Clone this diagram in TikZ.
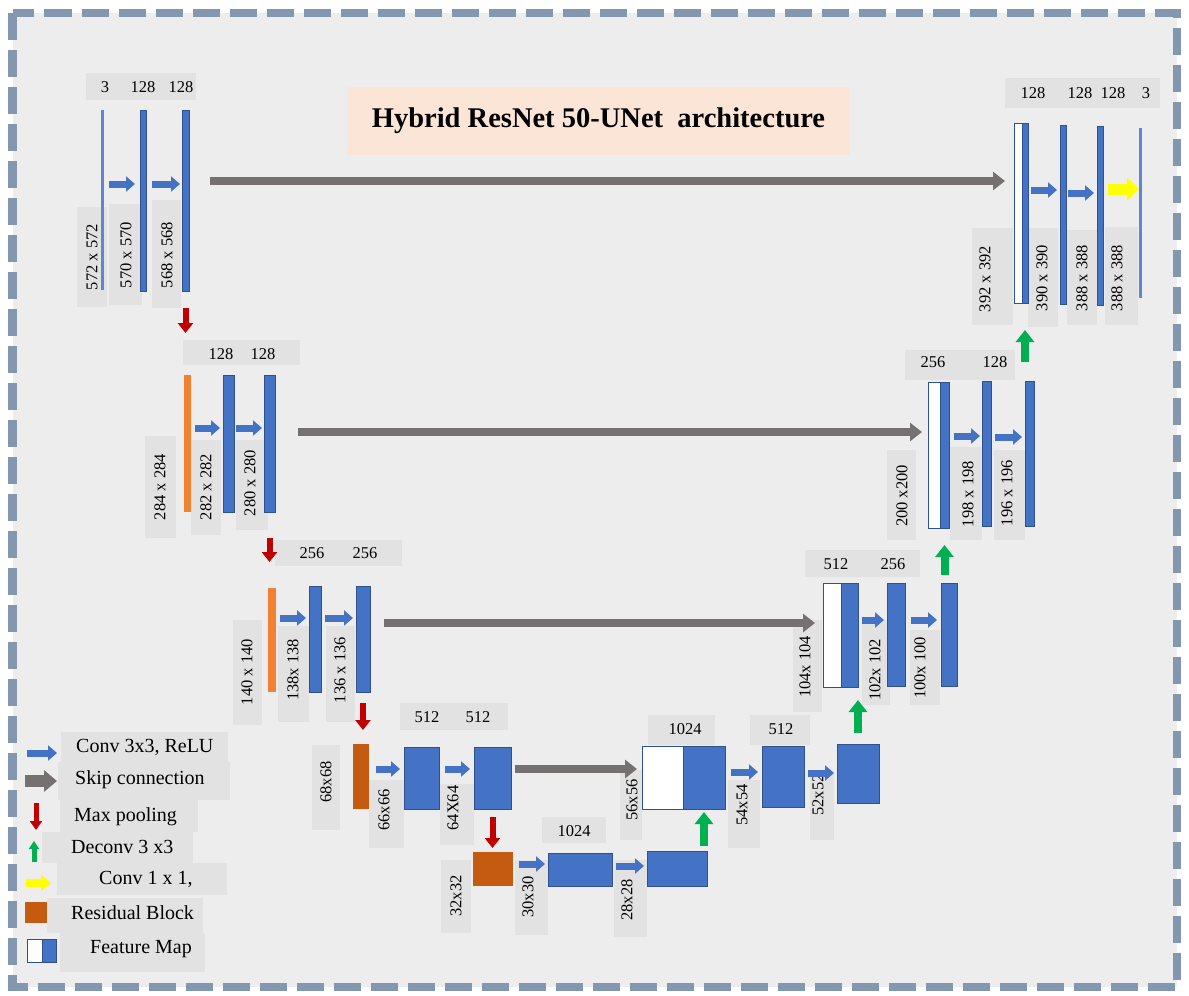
\documentclass[tikz,border=0pt]{standalone}
\usepackage{fontspec}
\setmainfont{Liberation Serif}
\usetikzlibrary{arrows.meta}
\definecolor{bgc}{HTML}{EDEDED}
\definecolor{lblc}{HTML}{E2E2E2}
\definecolor{cblue}{HTML}{4472C4}
\definecolor{cbluedk}{HTML}{2F528F}
\definecolor{corange}{HTML}{F08232}
\definecolor{cresid}{HTML}{C55A11}
\definecolor{cskip}{HTML}{767171}
\definecolor{cpool}{HTML}{C00000}
\definecolor{cdeconv}{HTML}{00B050}
\definecolor{cyel}{HTML}{FFFF00}
\definecolor{ctitle}{HTML}{FBE5D6}
\definecolor{cframe}{HTML}{8497B0}
\newcommand\bxn[6]{\node[#1, minimum width={(#5)-(#3)}, minimum height={(#6)-(#4)}] (#2) at ({((#3)+(#5))/2},{((#4)+(#6))/2}) {};}
\newcommand\rlab[8]{\bxn{lblbox}{#1}{#2}{#3}{#4}{#5}\node[numtxt, rotate=90] (#1t) at (#6,#7) {#8};}
\begin{document}
\begin{tikzpicture}[x=1pt,y=-1pt,
  bar/.style={fill=cblue, draw=cbluedk, line width=0.7pt, inner sep=0pt, outer sep=0pt},
  thinbar/.style={fill=cblue!85, inner sep=0pt, outer sep=0pt},
  obar/.style={fill=corange, inner sep=0pt, outer sep=0pt},
  resid/.style={fill=cresid, inner sep=0pt, outer sep=0pt},
  fmw/.style={fill=white, draw=cbluedk, line width=0.8pt, inner sep=0pt, outer sep=0pt},
  lblbox/.style={fill=lblc, inner sep=0pt, outer sep=0pt},
  numtxt/.style={font=\fontsize{16.5}{18}\selectfont, inner sep=0pt},
  legtxt/.style={font=\fontsize{20}{22}\selectfont, inner sep=0pt, anchor=west},
  conv/.style={cblue, line width=7pt, -{Triangle[width=15pt,length=9pt]}, shorten <=4pt, shorten >=3pt},
  skip/.style={cskip, line width=8pt, -{Triangle[width=18pt,length=12pt]}},
  pool/.style={cpool, line width=6pt, -{Triangle[width=15pt,length=10pt]}},
  deconv/.style={cdeconv, line width=8pt, -{Triangle[width=18pt,length=12pt]}},
  yconv/.style={cyel, line width=11pt, -{Triangle[width=23pt,length=12pt]}}
]
\useasboundingbox (0,0) rectangle (1189,996);
\fill[white] (0,0) rectangle (1189,996);
\fill[bgc] (12.5,13) rectangle (1177,987);
\draw[cframe, line width=8.5pt, dash pattern=on 27pt off 10pt] (12.5,13) rectangle (1177,987);

% title
\node[fill=ctitle, minimum width=503pt, minimum height=68pt, inner sep=0pt,
  font=\fontsize{28.5}{31}\selectfont\bfseries] (title) at (598.5,121) {Hybrid ResNet 50-UNet\ \ architecture};

% ---------- label boxes and texts ----------
% level 1 left
\bxn{lblbox}{t1}{86}{73}{196}{100}
\node[numtxt] (t1a) at (105,87) {3};
\node[numtxt] (t1b) at (143,87) {128};
\node[numtxt] (t1c) at (181,87) {128};
\rlab{r11}{77}{207}{107}{307}{92}{257}{572 x 572}
\rlab{r12}{109}{204}{142}{305}{126}{255}{570 x 570}
\rlab{r13}{152}{200}{181}{308}{167}{255}{568 x 568}
% level 2 left
\bxn{lblbox}{t2}{183}{340}{300}{365}
\node[numtxt] (t2a) at (221,354) {128};
\node[numtxt] (t2b) at (263,354) {128};
\rlab{r21}{145}{436}{176}{538}{160}{487}{284 x 284}
\rlab{r22}{191}{440}{221}{535}{206}{487}{282 x 282}
\rlab{r23}{236}{440}{268}{530}{250}{483}{280 x 280}
% level 3 left
\bxn{lblbox}{t3}{275}{540}{402}{566}
\node[numtxt] (t3a) at (312,553) {256};
\node[numtxt] (t3b) at (365,553) {256};
\rlab{r31}{233}{620}{262}{725}{247}{672}{140 x 140}
\rlab{r32}{278}{626}{309}{722}{293}{670}{138x 138}
\rlab{r33}{326}{626}{355}{722}{340}{670}{136 x 136}
% level 4 left
\bxn{lblbox}{t4}{400}{703}{508}{730}
\node[numtxt] (t4a) at (427,717) {512};
\node[numtxt] (t4b) at (478,717) {512};
\rlab{r41}{312}{745}{340}{830}{326}{782}{68x68}
\rlab{r42}{369}{780}{404}{848}{384}{810}{66x66}
\rlab{r43}{440}{784}{474}{845}{453}{808}{64X64}
% level 5
\bxn{lblbox}{t5}{542}{817}{606}{843}
\node[numtxt] (t5a) at (574,831) {1024};
\rlab{r51}{441}{860}{471}{933}{456}{896}{32x32}
\rlab{r52}{515}{860}{548}{935}{528}{897}{30x30}
\rlab{r53}{614}{860}{647}{937}{627}{900}{28x28}
% level 4 right
\bxn{lblbox}{t4r}{648}{715}{715}{745}
\node[numtxt] (t4ra) at (685,729) {1024};
\bxn{lblbox}{t4s}{750}{715}{810}{745}
\node[numtxt] (t4sa) at (781,729) {512};
\rlab{r44}{620}{770}{642}{840}{632}{800}{56x56}
\rlab{r45}{728}{780}{760}{848}{742}{805}{54x54}
\rlab{r46}{810}{775}{834}{840}{818}{795}{52x52}
% level 3 right
\bxn{lblbox}{t3r}{805}{550}{920}{577}
\node[numtxt] (t3ra) at (836,564) {512};
\node[numtxt] (t3rb) at (893,564) {256};
\rlab{r34}{793}{620}{822}{712}{805}{667}{104x 104}
\rlab{r35}{862}{620}{890}{705}{875}{670}{102x 102}
\rlab{r36}{910}{630}{940}{705}{920}{668}{100x 100}
% level 2 right
\bxn{lblbox}{t2r}{905}{350}{1015}{380}
\node[numtxt] (t2ra) at (933,362) {256};
\node[numtxt] (t2rb) at (995,362) {128};
\rlab{r24}{887}{450}{916}{540}{902}{496}{200 x200}
\rlab{r25}{950}{447}{982}{540}{968}{494}{198 x 198}
\rlab{r26}{994}{450}{1025}{540}{1007}{493}{196 x 196}
% level 1 right
\bxn{lblbox}{t1r}{1005}{78}{1160}{108}
\node[numtxt] (t1ra) at (1033,93) {128};
\node[numtxt] (t1rb) at (1080,93) {128};
\node[numtxt] (t1rc) at (1113,93) {128};
\node[numtxt] (t1rd) at (1146,93) {3};
\rlab{r14}{972}{228}{1013}{325}{985}{279}{392 x 392}
\rlab{r15}{1028}{228}{1058}{327}{1042}{278}{390 x 390}
\rlab{r16}{1067}{230}{1097}{325}{1082}{278}{388 x 388}
\rlab{r17}{1105}{227}{1138}{325}{1117}{278}{388 x 388}

% ---------- bars ----------
\bxn{thinbar}{l1a}{101}{110}{103.5}{290}
\bxn{bar}{l1b}{140}{110}{146.5}{291}
\bxn{bar}{l1c}{182}{110}{189}{291}
\bxn{obar}{l2a}{184}{375}{191}{512}
\bxn{bar}{l2b}{223}{375}{234}{512}
\bxn{bar}{l2c}{264}{375}{275}{512}
\bxn{obar}{l3a}{268}{588}{276}{692}
\bxn{bar}{l3b}{309}{586}{321}{692}
\bxn{bar}{l3c}{356}{586}{370}{692}
\bxn{resid}{l4a}{353}{744}{369}{809}
\bxn{bar}{l4b}{404}{747}{439}{809}
\bxn{bar}{l4c}{474}{747}{511}{809}
\bxn{resid}{l5a}{473}{852}{513}{886}
\bxn{bar}{l5b}{548}{853}{612}{886}
\bxn{bar}{l5c}{647}{851}{707}{886}
\bxn{fmw}{f4w}{642}{746}{683}{809}
\bxn{bar}{f4b}{683}{746}{725}{809}
\bxn{bar}{l4r2}{762}{746}{804}{807}
\bxn{bar}{l4r3}{837}{744}{879}{803}
\bxn{fmw}{f3w}{823}{583}{841}{687}
\bxn{bar}{f3b}{841}{583}{858}{687}
\bxn{bar}{l3r2}{887}{583}{905}{686}
\bxn{bar}{l3r3}{941}{583}{957}{686}
\bxn{fmw}{f2w}{928}{382}{940}{528}
\bxn{bar}{f2b}{940}{382}{949}{528}
\bxn{bar}{l2r2}{982}{381}{991}{526}
\bxn{bar}{l2r3}{1025}{381}{1034}{526}
\bxn{fmw}{f1w}{1014}{123}{1022}{303}
\bxn{bar}{f1b}{1022}{123}{1028}{303}
\bxn{bar}{l1r2}{1060}{125}{1066}{304}
\bxn{bar}{l1r3}{1097}{126}{1103}{305}
\bxn{thinbar}{l1r4}{1139}{128}{1141.5}{298}

% ---------- conv arrows ----------
\draw[conv, shorten <=5.5pt, shorten >=5pt] (l1a.east |- 0,184) -- (l1b.west |- 0,184);
\draw[conv, shorten <=5.5pt, shorten >=2pt] (l1b.east |- 0,184) -- (l1c.west |- 0,184);
\draw[conv] (l2a.east |- 0,428) -- (l2b.west |- 0,428);
\draw[conv, shorten <=2pt, shorten >=2pt] (l2b.east |- 0,428) -- (l2c.west |- 0,428);
\draw[conv] (l3a.east |- 0,618) -- (l3b.west |- 0,618);
\draw[conv] (l3b.east |- 0,618) -- (l3c.west |- 0,618);
\draw[conv, shorten <=7pt, shorten >=4pt] (l4a.east |- 0,769) -- (l4b.west |- 0,769);
\draw[conv, shorten <=6pt, shorten >=4pt] (l4b.east |- 0,769) -- (l4c.west |- 0,769);
\draw[conv, shorten <=6pt] (l5a.east |- 0,864) -- (l5b.west |- 0,864);
\draw[conv] (l5b.east |- 0,866) -- (l5c.west |- 0,866);
\draw[conv, shorten <=6pt, shorten >=4pt] (f4b.east |- 0,772) -- (l4r2.west |- 0,772);
\draw[conv] (l4r2.east |- 0,773) -- (l4r3.west |- 0,773);
\draw[conv] (f3b.east |- 0,620) -- (l3r2.west |- 0,620);
\draw[conv, shorten <=6pt, shorten >=4pt] (l3r2.east |- 0,620) -- (l3r3.west |- 0,620);
\draw[conv, shorten <=5pt, shorten >=2pt] (f2b.east |- 0,436) -- (l2r2.west |- 0,436);
\draw[conv] (l2r2.east |- 0,437) -- (l2r3.west |- 0,437);
\draw[conv, shorten <=3pt] (f1b.east |- 0,190) -- (l1r2.west |- 0,190);
\draw[conv, shorten <=2pt] (l1r2.east |- 0,193) -- (l1r3.west |- 0,193);
\draw[yconv, shorten <=5pt] (l1r3.east |- 0,189) -- (l1r4.west |- 0,189);

% ---------- skip connections ----------
\draw[skip, shorten <=21pt, shorten >=9pt] (l1c.east |- 0,181) -- (f1w.west |- 0,181);
\draw[skip, shorten <=23pt, shorten >=6pt] (l2c.east |- 0,432) -- (f2w.west |- 0,432);
\draw[skip, shorten <=14pt, shorten >=8pt] (l3c.east |- 0,623) -- (f3w.west |- 0,623);
\draw[skip, shorten <=4pt, shorten >=5pt] (l4c.east |- 0,769) -- (f4w.west |- 0,769);

% ---------- max pooling ----------
\draw[pool, shorten <=17pt, shorten >=42pt] (l1c.south) -- (l1c.south |- l2a.north);
\draw[pool, shorten <=26pt, shorten >=26pt] (l2c.south) -- (l2c.south |- l3a.north);
\draw[pool, shorten <=11pt, shorten >=14pt] (l3c.south) -- (l3c.south |- l4a.north);
\draw[pool, shorten <=8pt, shorten >=4pt] (l4c.south) -- (l4c.south |- l5a.north);

% ---------- deconv ----------
\draw[deconv, shorten <=5pt, shorten >=3pt] (f4b.south |- l5c.north) -- (f4b.south);
\draw[deconv, shorten <=11pt, shorten >=13pt] (l4r3.north) -- (l4r3.north |- f3b.south);
\draw[deconv, shorten <=8pt, shorten >=17pt] (f2b.south |- l3r3.north) -- (f2b.south);
\draw[deconv, shorten <=19pt, shorten >=27pt] (f1b.south |- l2r3.north) -- (f1b.south);

% ---------- legend ----------
\bxn{lblbox}{g1}{61}{732}{228}{762}
\node[legtxt] (g1t) at (76,747) {Conv 3x3, ReLU};
\bxn{lblbox}{g2}{58}{762}{230}{800}
\node[legtxt] (g2t) at (75,780) {Skip connection};
\bxn{lblbox}{g3}{60}{800}{198}{832}
\node[legtxt] (g3t) at (74,817) {Max pooling};
\bxn{lblbox}{g4}{42}{832}{193}{863}
\node[legtxt] (g4t) at (71,847) {Deconv 3 x3};
\bxn{lblbox}{g5}{57}{863}{227}{895}
\node[legtxt] (g5t) at (99,879) {Conv 1 x 1,};
\bxn{lblbox}{g6}{47}{898}{203}{933}
\node[legtxt] (g6t) at (71,913) {Residual Block};
\bxn{lblbox}{g7}{60}{933}{205}{972}
\node[legtxt] (g7t) at (90,949) {Feature Map};

\coordinate (c1) at (27,753);
\draw[conv, shorten <=0pt, shorten >=4pt] (c1) -- (g1.west |- c1);
\coordinate (c2) at (25,781);
\draw[skip, line width=12pt, -{Triangle[width=21pt,length=13pt]}, shorten >=1pt] (c2) -- (g2.west |- c2);
\coordinate (c3a) at (36,803);
\coordinate (c3b) at (36,830);
\draw[pool, line width=5pt, -{Triangle[width=12pt,length=9pt]}] (c3a) -- (c3b);
\coordinate (c4a) at (34,862);
\coordinate (c4b) at (34,841);
\draw[deconv, line width=5pt, -{Triangle[width=10pt,length=8pt]}] (c4a) -- (c4b);
\coordinate (c5) at (26,883);
\draw[yconv, line width=8pt, -{Triangle[width=16pt,length=10pt]}, shorten >=6pt] (c5) -- (g5.west |- c5);
\bxn{resid}{g6i}{25}{902}{47}{923}
\bxn{fmw}{g7w}{27}{939}{42}{962}
\bxn{bar}{g7b}{42}{939}{56}{962}
\end{tikzpicture}
\end{document}
